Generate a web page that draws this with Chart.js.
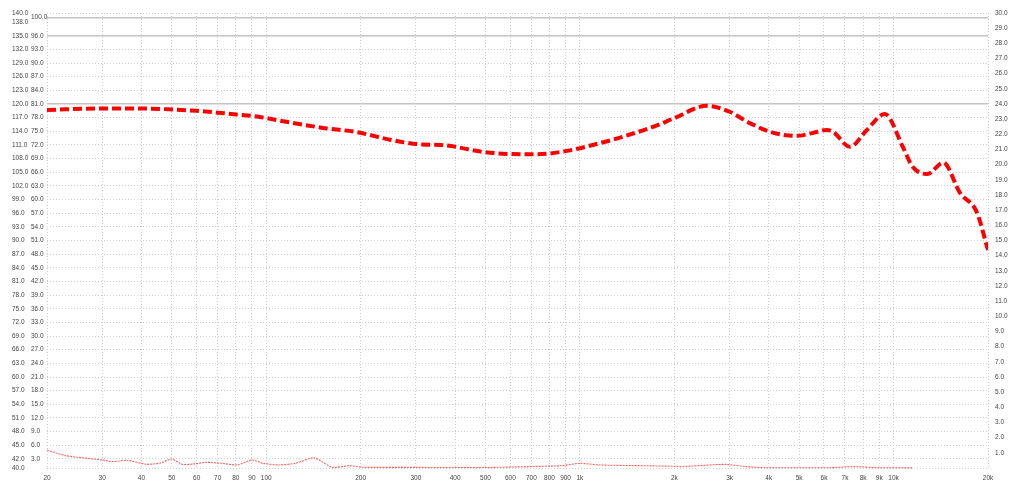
<!DOCTYPE html>
<html lang="en">
  <head>
    <meta charset="UTF-8" />
    <title>Frequency response</title>
    <script src="https://cdn.jsdelivr.net/npm/chart.js"></script>
    <style>
      body {
        margin: 0;
        background: #fff;
      }
      #wrap {
        width: 1020px;
        height: 492px;
      }
    </style>
  </head>
  <body>
    <div id="wrap">
      <canvas id="frChart" width="1020" height="492"></canvas>
    </div>

    <script>
      // frequency ticks (Hz)
      const freqTicks = [20, 30, 40, 50, 60, 70, 80, 90, 100, 200, 300, 400, 500, 600, 700, 800, 900,
        1000, 2000, 3000, 4000, 5000, 6000, 7000, 8000, 9000, 10000, 20000];
      // outer left axis (dB)
      const outerTicks = [40, 42, 45, 48, 51, 54, 57, 60, 63, 66, 69, 72, 75, 78, 81, 84, 87, 90, 93, 96,
        99, 102, 105, 108, 111, 114, 117, 120, 123, 126, 129, 132, 135, 138, 140];
      // inner left axis
      const innerTicks = [3, 6, 9, 12, 15, 18, 21, 24, 27, 30, 33, 36, 39, 42, 45, 48, 51, 54, 57, 60,
        63, 66, 69, 72, 75, 78, 81, 84, 87, 90, 93, 96, 100];
      const innerSolid = [100, 96, 81];
      // right axis
      const rightTicks = [1, 2, 3, 4, 5, 6, 7, 8, 9, 10, 11, 12, 13, 14, 15, 16, 17, 18, 19, 20,
        21, 22, 23, 24, 25, 26, 27, 28, 29, 30];

      // main response curve
      const splHz = [20, 30, 40, 50, 60, 70, 80, 90, 100, 120, 150, 195, 250, 315, 360, 500, 610, 730,
        910, 1100, 1370, 1760, 2000, 2540, 3000, 3480, 4120, 4920, 5500, 6130, 6410, 7260, 8220, 9380,
        10700, 11500, 12800, 14400, 16300, 18400, 20000];
      const splDb = [118.7, 119.0, 119.0, 118.8, 118.5, 118.1, 117.7, 117.4, 116.9, 115.9, 114.8, 113.8,
        112.1, 111.1, 111.0, 109.4, 109.0, 108.95, 109.7, 111.0, 112.8, 115.3, 116.9, 119.6, 118.3, 115.8,
        113.7, 113.0, 113.6, 114.3, 113.9, 110.6, 114.3, 117.8, 110.6, 106.2, 104.6, 107.1, 100.4, 96.3, 87.9];

      // distortion curve (right axis)
      const thdHz = [20, 23, 30, 32.5, 36, 41.6, 46, 50, 54, 58.5, 64, 72, 81, 90, 97.5, 110, 124, 142,
        162, 185, 203, 300, 500, 680, 870, 1000, 1150, 1600, 2030, 2100, 2900, 3400, 3900, 6300, 7400,
        9000, 11500];
      const thdPct = [1.19, 0.81, 0.53, 0.42, 0.51, 0.24, 0.33, 0.59, 0.24, 0.26, 0.37, 0.31, 0.2, 0.53,
        0.31, 0.2, 0.31, 0.68, 0.05, 0.15, 0.05, 0.04, 0.03, 0.09, 0.15, 0.31, 0.2, 0.15, 0.11, 0.09, 0.24,
        0.09, 0.02, 0.02, 0.09, 0.02, 0.01];

      const tickFont = { family: "'Liberation Sans', Arial, sans-serif", size: 6.5 };
      const tickColor = "#444";

      function setTicks(list) {
        return (scale) => {
          scale.ticks = list.map((v) => ({ value: v }));
        };
      }
      function fixWidth(w) {
        return (scale) => {
          scale.width = w;
        };
      }

      const ctx = document.getElementById("frChart").getContext("2d");

      new Chart(ctx, {
        type: "line",
        data: {
          datasets: [
            {
              label: "Response",
              data: splHz.map((f, i) => ({ x: f, y: splDb[i] })),
              yAxisID: "y",
              borderColor: "#ff0000",
              borderWidth: 4,
              borderDash: [9, 4],
              borderCapStyle: "butt",
              pointRadius: 0,
              cubicInterpolationMode: "monotone",
              fill: false,
            },
            {
              label: "THD",
              data: thdHz.map((f, i) => ({ x: f, y: thdPct[i] })),
              yAxisID: "yRight",
              borderColor: "rgba(255, 70, 70, 0.85)",
              borderWidth: 1.1,
              borderDash: [2, 1],
              pointRadius: 0,
              tension: 0.2,
              fill: false,
              clip: 4,
            },
          ],
        },
        options: {
          responsive: false,
          animation: false,
          devicePixelRatio: 1,
          layout: { padding: { top: 13, left: 12, right: 0, bottom: 0 } },
          plugins: {
            legend: { display: false },
            tooltip: { enabled: false },
          },
          scales: {
            x: {
              type: "logarithmic",
              position: "bottom",
              min: 20,
              max: 20000,
              afterBuildTicks: setTicks(freqTicks),
              afterFit: (scale) => {
                scale.height = 24;
              },
              grid: { color: "#cdcdcd", lineWidth: 1, drawTicks: false },
              border: { display: false, dash: [1, 2] },
              ticks: {
                autoSkip: false,
                maxRotation: 0,
                padding: 6,
                font: tickFont,
                color: tickColor,
                callback: (v) => (v >= 1000 ? v / 1000 + "k" : String(v)),
              },
            },
            y: {
              position: "left",
              weight: 2,
              min: 40,
              max: 140,
              afterBuildTicks: setTicks(outerTicks),
              afterFit: fixWidth(19),
              grid: { display: false, drawTicks: false },
              border: { display: false },
              ticks: {
                autoSkip: false,
                crossAlign: "far",
                padding: 0,
                font: tickFont,
                color: tickColor,
                callback: (v) => v.toFixed(1),
              },
            },
            y2: {
              position: "left",
              weight: 1,
              min: 1,
              max: 101,
              afterBuildTicks: setTicks([1].concat(innerTicks, [101])),
              afterFit: fixWidth(16),
              grid: {
                drawTicks: false,
                color: (c) => (innerSolid.includes(c.tick.value) ? "#c4c4c4" : "#d0d0d0"),
                lineWidth: (c) => (innerSolid.includes(c.tick.value) ? 1.5 : 1),
              },
              border: {
                display: false,
                dash: (c) => (innerSolid.includes(c.tick.value) ? [] : [1, 2]),
              },
              ticks: {
                autoSkip: false,
                crossAlign: "far",
                padding: 0,
                font: tickFont,
                color: tickColor,
                callback: (v) => (v === 1 || v === 101 ? "" : v.toFixed(1)),
              },
            },
            yRight: {
              position: "right",
              min: 0,
              max: 30,
              afterBuildTicks: setTicks(rightTicks),
              afterFit: fixWidth(32),
              grid: { display: false, drawTicks: false },
              border: { display: false },
              ticks: {
                autoSkip: false,
                padding: 7,
                font: tickFont,
                color: tickColor,
                callback: (v) => v.toFixed(1),
              },
            },
          },
        },
      });
    </script>
  </body>
</html>
